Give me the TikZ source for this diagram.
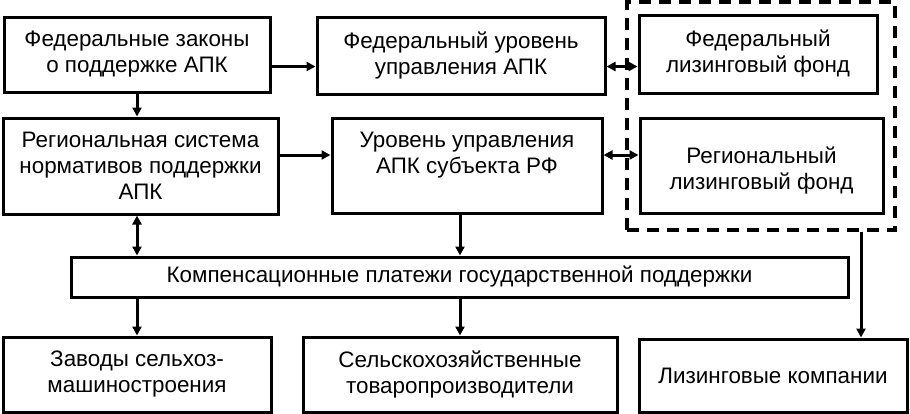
\documentclass[tikz,border=0pt]{standalone}
\usepackage{fontspec}
\setmainfont{Liberation Sans}
\usetikzlibrary{arrows.meta,positioning}

\begin{document}
\begin{tikzpicture}[x=0.5pt, y=-0.5pt, >={Triangle[length=4.5pt,width=4.5pt]}]
    \tikzstyle{every node} = [font=\fontsize{11.2}{13}\selectfont]
    \tikzstyle{textbox} = [align=center, draw, line width=1.5pt, inner sep=0pt]
    \tikzstyle{link} = [line width=1.5pt]
    \tikzstyle{group} = [draw, line width=1.7pt, dash pattern=on 6pt off 4pt, inner sep=0pt]

    \useasboundingbox (0,0) rectangle (910,413);

    \node (laws) [textbox, minimum width=133pt, minimum height=37.5pt] at (137,54.5) {Федеральные законы\\о поддержке АПК};
    \node (regsys) [textbox, minimum width=137.5pt, minimum height=48pt] at (140.5,166) {Региональная система\\нормативов поддержки\\АПК};
    \node (fedlev) [textbox, minimum width=144pt, minimum height=38.5pt] at (461,55.5) {Федеральный уровень\\управления АПК};
    \node (reglev) [textbox, minimum width=135pt, minimum height=47.5pt,
        label={[align=center, yshift=5pt]center:Уровень управления\\АПК субъекта РФ}] at (467,165.5) {};
    \node (fedfund) [textbox, minimum width=119pt, minimum height=39pt] at (758,54) {Федеральный\\лизинговый фонд};
    \node (regfund) [textbox, minimum width=121.5pt, minimum height=47.5pt,
        label={[align=center, yshift=-2.5pt]center:Региональный\\лизинговый фонд}] at (761.5,165.5) {};
    \node (group) [group, minimum width=134pt, minimum height=114pt] at (761,116) {};
    \node (comp) [textbox, minimum width=388.5pt, minimum height=20pt] at (459.5,277) {Компенсационные платежи государственной поддержки};
    \node (plants) [textbox, minimum width=134pt, minimum height=37.5pt] at (137,374.5) {Заводы сельхоз-\\машиностроения};
    \node (producers) [textbox, minimum width=157pt, minimum height=37.5pt] at (460,374.5) {Сельскохозяйственные\\товаропроизводители};
    \node (lcomp) [textbox, minimum width=134pt, minimum height=36.5pt] at (773,375.5) {Лизинговые компании};

    \coordinate (lawsout) at ([yshift=-6pt]laws.east);
    \coordinate (regout) at ([yshift=5.5pt]regsys.east);
    \coordinate (lcin) at ([xshift=44pt]lcomp.north);

    \draw [->, link] (lawsout) -- (lawsout -| fedlev.west);
    \draw [<->, link] (lawsout -| fedlev.east) -- (lawsout -| fedfund.west);
    \draw [->, link] (regout) -- (regout -| reglev.west);
    \draw [<->, link] (regout -| reglev.east) -- (regout -| regfund.west);
    \draw [->, link] (laws.south) -- (laws.south |- regsys.north);
    \draw [<->, link] (laws.south |- regsys.south) -- (laws.south |- comp.north);
    \draw [->, link] (plants.north |- comp.south) -- (plants.north);
    \draw [->, link] (producers.north |- reglev.south) -- (producers.north |- comp.north);
    \draw [->, link] (producers.north |- comp.south) -- (producers.north);
    \draw [->, link] (lcin |- group.south) -- (lcin);
\end{tikzpicture}
\end{document}
